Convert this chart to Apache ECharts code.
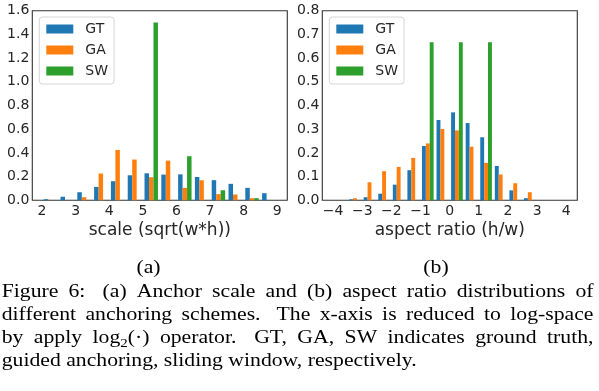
<!DOCTYPE html>
<html>
<head>
<meta charset="utf-8">
<script src="https://cdn.jsdelivr.net/npm/echarts@6/dist/echarts.min.js"></script>
<style>
html,body{margin:0;padding:0;background:#fff;}
#chart{width:599px;height:391px;}
</style>
</head>
<body>
<div id="chart"></div>
<script>
// ---- data (density histograms) ----
const seriesNames = ['GT', 'GA', 'SW'];
const seriesColors = ['#1f77b4', '#ff7f0e', '#2ca02c'];

const scaleEdges = [2, 2.5, 3, 3.5, 4, 4.5, 5, 5.5, 6, 6.5, 7, 7.5, 8, 8.5, 9];
const scaleTicks = [2, 3, 4, 5, 6, 7, 8, 9];
const scaleGT = [0.009, 0.03, 0.068, 0.113, 0.161, 0.211, 0.228, 0.217, 0.219, 0.197, 0.17, 0.139, 0.105, 0.06];
const scaleGA = [0, 0, 0.026, 0.226, 0.425, 0.344, 0.195, 0.335, 0.105, 0.169, 0.052, 0.049, 0.018, 0];
const scaleSW = [0, 0, 0, 0, 0, 0, 1.5, 0, 0.372, 0, 0.085, 0, 0.018, 0];

const aspectEdges = [-4, -3.5, -3, -2.5, -2, -1.5, -1, -0.5, 0, 0.5, 1, 1.5, 2, 2.5, 3, 3.5, 4];
const aspectTicks = [-4, -3, -2, -1, 0, 1, 2, 3, 4];
const aspectGT = [0, 0.004, 0.013, 0.028, 0.066, 0.127, 0.229, 0.339, 0.371, 0.326, 0.266, 0.145, 0.042, 0.009, 0, 0];
const aspectGA = [0, 0.009, 0.076, 0.123, 0.141, 0.179, 0.24, 0.301, 0.295, 0.226, 0.158, 0.109, 0.072, 0.034, 0, 0];
const aspectSW = [0, 0, 0, 0, 0, 0, 0.667, 0, 0.667, 0, 0.667, 0, 0, 0, 0, 0];

const captionLines = [
  'Figure 6: (a) Anchor scale and (b) aspect ratio distributions of',
  'different anchoring schemes. The x-axis is reduced to log-space',
  'by apply log\u2082(\u00b7) operator. GT, GA, SW indicates ground truth,',
  'guided anchoring, sliding window, respectively.'
];

// ---- helpers ----
function histData(edges, vals) {
  return vals.map((v, i) => [edges[i], edges[i + 1], v]);
}
function makeRender(k) {
  return function (params, api) {
    const a = api.value(0), b = api.value(1), v = api.value(2);
    if (!v) return null;
    const bw = b - a;
    const x0 = a + 0.1 * bw + k * 0.8 * bw / 3;
    const x1 = x0 + 0.8 * bw / 3;
    const p0 = api.coord([x0, 0]);
    const p1 = api.coord([x1, v]);
    return {
      type: 'rect',
      shape: { x: p0[0], y: p1[1], width: p1[0] - p0[0], height: p0[1] - p1[1] },
      style: { fill: api.visual('color') }
    };
  };
}
const minus = s => String(s).replace('-', '\u2212');
const TXT = '#262626';
const SANS = 'DejaVu Sans';

function xAxis(idx, min, max, ticks, name) {
  return {
    type: 'value', gridIndex: idx, min: min, max: max,
    name: name, nameLocation: 'middle', nameGap: 22,
    nameTextStyle: { fontFamily: SANS, fontSize: 17, color: TXT },
    axisLine: { show: false }, axisTick: { show: false }, splitLine: { show: false },
    axisLabel: { customValues: ticks, formatter: v => minus(v), fontFamily: SANS, fontSize: 14, color: TXT, margin: 4 }
  };
}
function yAxis(idx, max, interval) {
  return {
    type: 'value', gridIndex: idx, min: 0, max: max, interval: interval,
    axisLine: { show: false }, axisTick: { show: false }, splitLine: { show: false },
    axisLabel: { formatter: v => v.toFixed(1), fontFamily: SANS, fontSize: 14, color: TXT, margin: 3 }
  };
}
function legend(left) {
  return {
    left: left, top: 17, orient: 'vertical',
    data: seriesNames.map(n => ({ name: n, icon: 'rect' })),
    itemWidth: 27, itemHeight: 9, itemGap: 7,
    padding: [5, 6, 6, 7],
    backgroundColor: '#ffffff', borderColor: '#d6d6d6', borderWidth: 1, borderRadius: 3,
    textStyle: { fontFamily: SANS, fontSize: 14, color: TXT, lineHeight: 14, padding: [0, 0, 0, 7] },
    selectedMode: false
  };
}

const series = [];
[[scaleGT, scaleGA, scaleSW, scaleEdges, 0], [aspectGT, aspectGA, aspectSW, aspectEdges, 1]].forEach(g => {
  [g[0], g[1], g[2]].forEach((vals, k) => {
    series.push({
      type: 'custom', name: seriesNames[k], xAxisIndex: g[4], yAxisIndex: g[4],
      itemStyle: { color: seriesColors[k] },
      encode: { x: [0, 1], y: 2 },
      renderItem: makeRender(k),
      data: histData(g[3], vals),
      silent: true
    });
  });
});

// ---- caption (justified like the LaTeX source) ----
const FS = 19.5, SX = 1.113;
const FONT = FS + 'px "Liberation Serif"';
const SUBFONT = '13.5px "Liberation Serif"';
const mctx = document.createElement('canvas').getContext('2d');
function w(s, font) { mctx.font = font || FONT; return mctx.measureText(s).width * SX; }
function txt(s, x, y, font) {
  return { type: 'text', x: x, y: y, scaleX: SX, silent: true,
    style: { text: s, font: font || FONT, fill: '#000', textAlign: 'left', textVerticalAlign: 'middle', align: 'left', verticalAlign: 'middle' } };
}
const graphics = [];
const X0 = 1.7, X1 = 593.5;
const baselines = [298.3, 321.3, 344.3, 367.3];
captionLines.forEach((line, li) => {
  const words = line.split(' ');
  const widths = words.map(t => {
    if (t.indexOf('log\u2082') === 0) return w('log') + w('2', SUBFONT) + w('(\u00b7)');
    return w(t);
  });
  const total = widths.reduce((a, b) => a + b, 0);
  const weights = words.slice(0, -1).map(t => /[:.]$/.test(t) ? 1.7 : 1);
  const wsum = weights.reduce((a, b) => a + b, 0);
  const justify = li < 3;
  const unit = justify ? (X1 - X0 - total) / wsum : w(' ');
  const ym = baselines[li] - 0.305 * FS;
  let x = X0;
  words.forEach((t, i) => {
    if (t.indexOf('log\u2082') === 0) {
      graphics.push(txt('log', x, ym));
      const xs = x + w('log');
      graphics.push(txt('2', xs, ym + 5.5, SUBFONT));
      graphics.push(txt('(\u00b7)', xs + w('2', SUBFONT), ym));
    } else {
      graphics.push(txt(t, x, ym));
    }
    x += widths[i] + (i < weights.length ? unit * weights[i] : 0);
  });
});
// sub-figure labels
[['(a)', 148.5], ['(b)', 436]].forEach(p => {
  const ww = w(p[0]);
  graphics.push(txt(p[0], p[1] - ww / 2, 273.8 - 0.305 * FS));
});

const option = {
  animation: false,
  backgroundColor: '#ffffff',
  grid: [
    { left: 32.3, top: 10.7, width: 255, height: 189.6, show: true, borderColor: '#333', borderWidth: 1.1, backgroundColor: 'transparent' },
    { left: 322.3, top: 10.7, width: 255, height: 189.6, show: true, borderColor: '#333', borderWidth: 1.1, backgroundColor: 'transparent' }
  ],
  xAxis: [
    xAxis(0, 1.71, 9.3, scaleTicks, 'scale (sqrt(w*h))'),
    xAxis(1, -4.37, 4.38, aspectTicks, 'aspect ratio (h/w)')
  ],
  yAxis: [yAxis(0, 1.6, 0.2), yAxis(1, 0.8, 0.1)],
  legend: [legend(39.3), legend(329.3)],
  series: series,
  graphic: graphics
};
const chart = echarts.init(document.getElementById('chart'), null, { renderer: 'canvas' });
chart.setOption(option);
</script>
</body>
</html>
